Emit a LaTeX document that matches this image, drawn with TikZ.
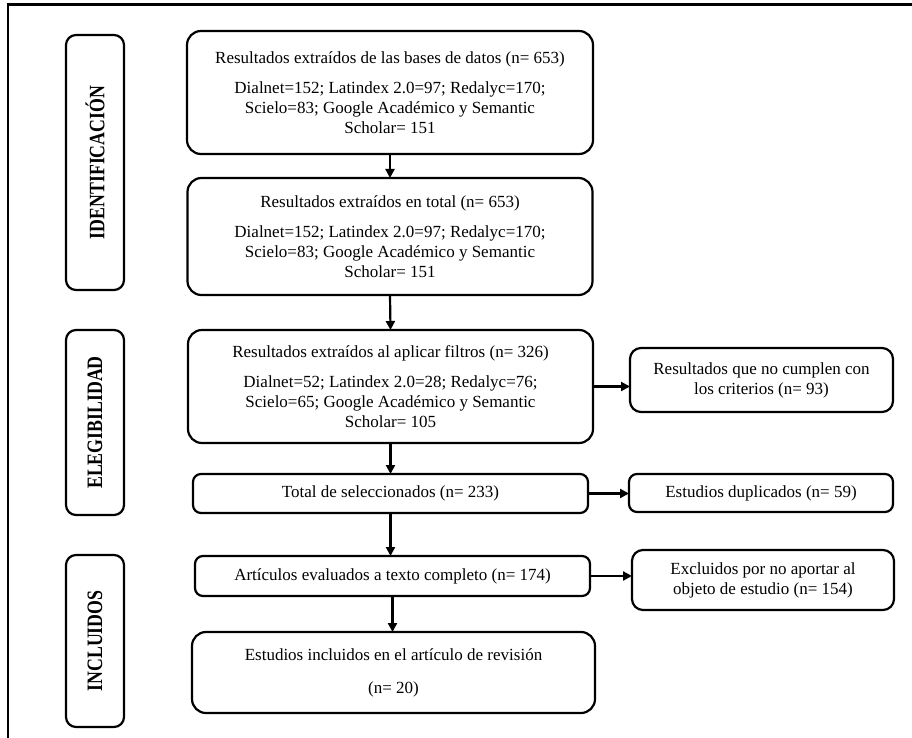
\documentclass[tikz,border=0pt]{standalone}
\usepackage{fontspec}
\setmainfont{Liberation Serif}
\usetikzlibrary{arrows.meta}
\begin{document}
\begin{tikzpicture}[x=1pt,y=-1pt,
  every node/.style={inner sep=0pt, outer sep=0pt},
  bigbox/.style={draw, line width=2.2pt, rounded corners=14pt, align=center,
    font=\fontsize{17}{20}\selectfont},
  smallbox/.style={draw, line width=2.2pt, rounded corners=8pt, align=center,
    font=\fontsize{17}{20}\selectfont},
  sidebox/.style={draw, line width=2.2pt, rounded corners=10pt, rotate=90,
    font=\fontsize{22}{22}\selectfont\bfseries},
  arr/.style={-{Triangle[length=9pt,width=9pt]}, line width=2.2pt}]
\useasboundingbox (0,0) rectangle (912,738);
\draw[line width=2.4pt] (912,4.5) -- (8,4.5) -- (8,738);

% side labels
\node[sidebox, minimum width=255pt, minimum height=58pt] (sid) at (95,162.5) {\scalebox{0.81}[1]{IDENTIFICACIÓN}};
\node[sidebox, minimum width=185pt, minimum height=58pt] (sel) at (95,422.5) {\scalebox{0.81}[1]{ELEGIBILIDAD}};
\node[sidebox, minimum width=172pt, minimum height=58pt] (sin) at (95,641) {\scalebox{0.81}[1]{INCLUIDOS}};

% main column
\node[bigbox, minimum width=406pt, minimum height=123pt] (b1) at (390,92.5)
  {Resultados extraídos de las bases de datos (n= 653)\\[10pt]
   Dialnet=152; Latindex 2.0=97; Redalyc=170;\\
   Scielo=83; Google Académico y Semantic\\
   Scholar= 151};
\node[bigbox, minimum width=405pt, minimum height=117pt] (b2) at (390,236.5)
  {Resultados extraídos en total (n= 653)\\[10pt]
   Dialnet=152; Latindex 2.0=97; Redalyc=170;\\
   Scielo=83; Google Académico y Semantic\\
   Scholar= 151};
\node[bigbox, minimum width=405pt, minimum height=113pt] (b3) at (390.5,386.5)
  {Resultados extraídos al aplicar filtros (n= 326)\\[10pt]
   Dialnet=52; Latindex 2.0=28; Redalyc=76;\\
   Scielo=65; Google Académico y Semantic\\
   Scholar= 105};
\node[smallbox, minimum width=395pt, minimum height=39pt] (b4) at (390.5,493.5)
  {Total de seleccionados (n= 233)};
\node[smallbox, minimum width=395pt, minimum height=40pt] (b5) at (392.5,576)
  {Artículos evaluados a texto completo (n= 174)};
\node[bigbox, minimum width=403pt, minimum height=81pt] (b6) at (393.5,672.5)
  {Estudios incluidos en el artículo de revisión\\[13pt] (n= 20)};

% right column
\node[smallbox, rounded corners=11pt, minimum width=263pt, minimum height=64pt] (rA) at (761.5,380)
  {Resultados que no cumplen con\\los criterios (n= 93)};
\node[smallbox, minimum width=264pt, minimum height=38pt] (rB) at (761,493)
  {Estudios duplicados (n= 59)};
\node[smallbox, rounded corners=11pt, minimum width=262pt, minimum height=60pt] (rC) at (763,580)
  {Excluidos por no aportar al\\objeto de estudio (n= 154)};

% connectors
\draw[arr] (b1.south) -- (b2.north);
\draw[arr] (b2.south) -- (b3.north);
\draw[arr] (b3.south) -- (b4.north);
\draw[arr] (b4.south) -- (b4.south |- b5.north);
\draw[arr] (b5.south) -- (b5.south |- b6.north);
\draw[arr] (b3.east) -- (b3.east -| rA.west);
\draw[arr] (b4.east) -- (b4.east -| rB.west);
\draw[arr] (b5.east) -- (b5.east -| rC.west);
\end{tikzpicture}
\end{document}
